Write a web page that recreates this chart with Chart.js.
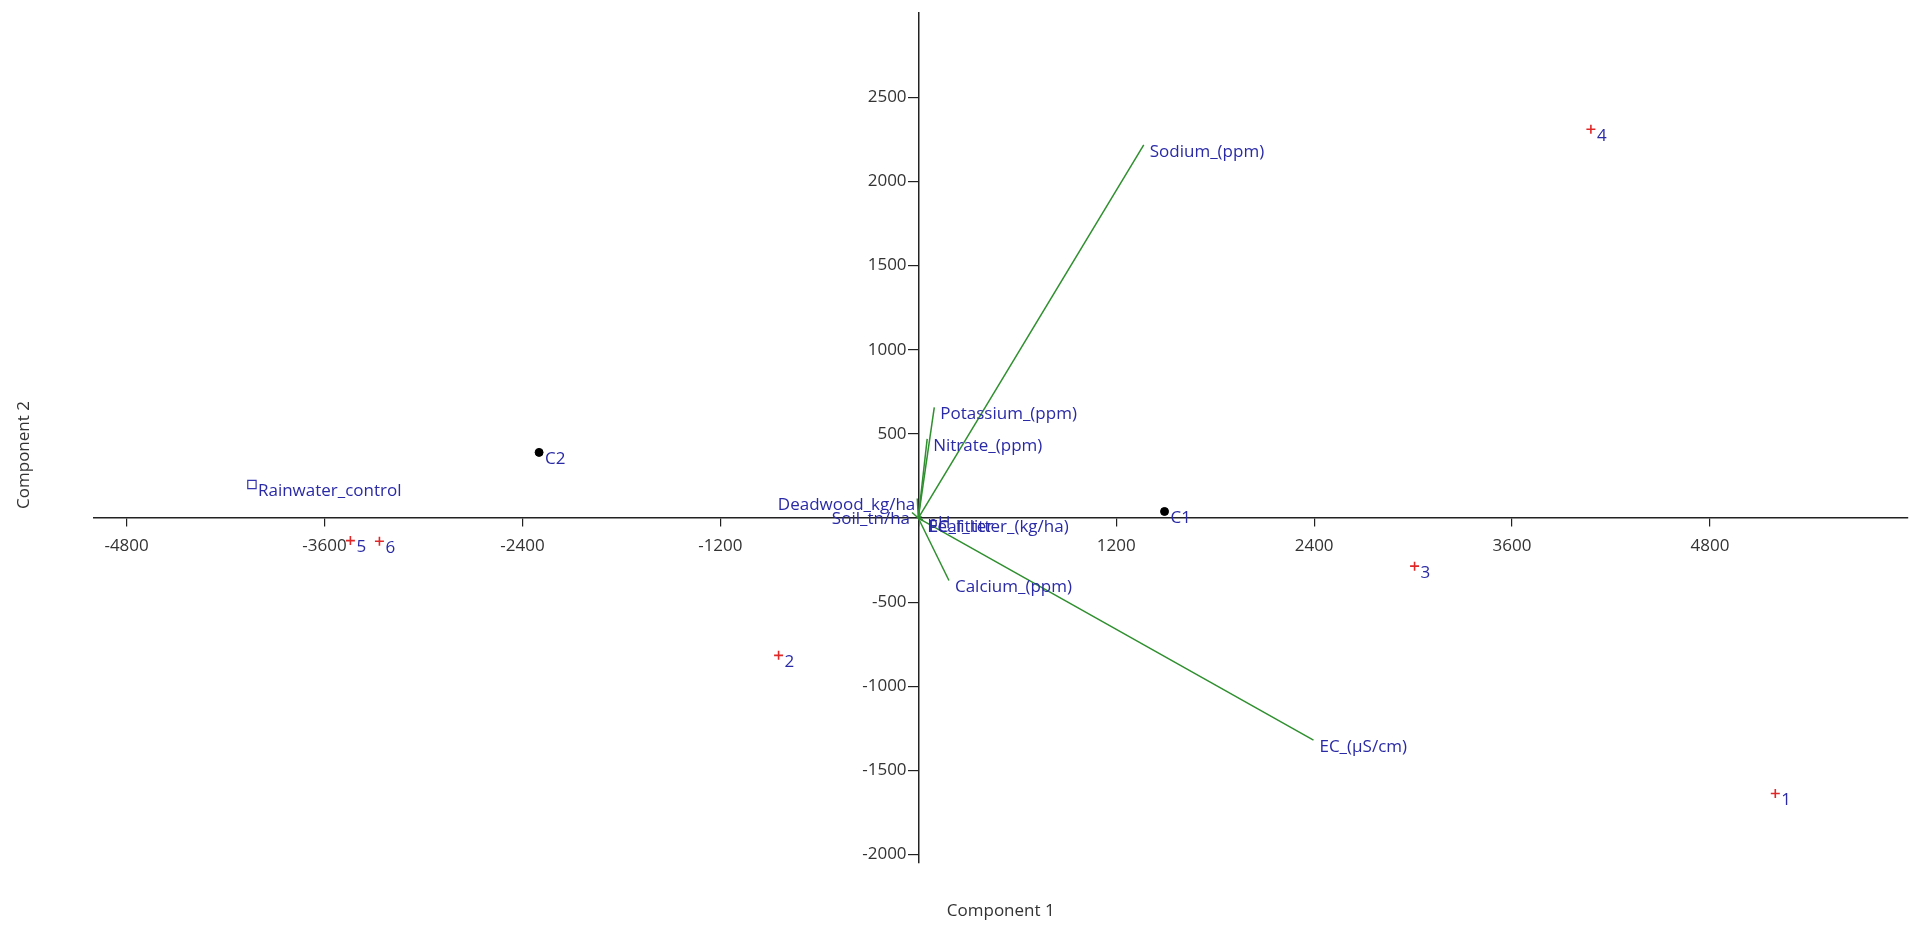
<!DOCTYPE html>
<html>
<head>
<meta charset="utf-8">
<title>PCA biplot</title>
<script src="https://cdn.jsdelivr.net/npm/chart.js@4.4.1/dist/chart.umd.min.js"></script>
<style>
  html, body { margin: 0; padding: 0; background: #ffffff; }
  #wrap { position: relative; width: 1915px; height: 925px; }
</style>
</head>
<body>
<div id="wrap"><canvas id="biplot"></canvas></div>
<script>
// Sample scores on components 1 and 2
const sampleNames = ['1', '2', '3', '4', '5', '6'];
const sampleX = [5196, -847, 3009, 4078, -3443, -3267];
const sampleY = [-1637, -816, -286, 2310, -134, -138];

// Group centroids
const groupNames = ['C1', 'C2'];
const groupX = [1493, -2299];
const groupY = [39, 390];

// Control sample
const controlNames = ['Rainwater_control'];
const controlX = [-4040];
const controlY = [199];

// Variable loadings drawn as vectors from the origin
const varNames = ['Sodium_(ppm)', 'Potassium_(ppm)', 'Nitrate_(ppm)', 'Deadwood_kg/ha', 'Soil_tn/ha',
                  'pH', 'EC_litter', 'Leaf_litter_(kg/ha)', 'Calcium_(ppm)', 'EC_(µS/cm)'];
const varX = [1367, 97, 54, -6, -38, 20, 25, 27, 186, 2396];
const varY = [2217, 658, 470, 116, 33, 10, -12, -12, -371, -1320];

// Axis ticks
const xTicks = [-4800, -3600, -2400, -1200, 0, 1200, 2400, 3600, 4800];
const yTicks = [-2000, -1500, -1000, -500, 0, 500, 1000, 1500, 2000, 2500];

const FONT = '"Open Sans", "Noto Sans", sans-serif';
const LABEL_BLUE = '#2a2aa6';
const VECTOR_GREEN = '#2f8f2f';
const X_MIN = -5000, X_MAX = 6000, Y_MIN = -2050, Y_MAX = 3000;

const pts = (xs, ys) => xs.map((x, i) => ({ x: x, y: ys[i] }));

const datasets = [
  {
    label: 'Samples',
    data: pts(sampleX, sampleY),
    names: sampleNames,
    pointStyle: 'cross',
    pointRadius: 4.5,
    pointBorderColor: '#e02828',
    pointBorderWidth: 1.6,
    showLine: false
  },
  {
    label: 'Centroids',
    data: pts(groupX, groupY),
    names: groupNames,
    pointStyle: 'circle',
    pointRadius: 4,
    pointBackgroundColor: '#000000',
    pointBorderColor: '#000000',
    pointBorderWidth: 1,
    showLine: false
  },
  {
    label: 'Control',
    data: pts(controlX, controlY),
    names: controlNames,
    pointStyle: 'rect',
    pointRadius: 5.9,
    pointBackgroundColor: 'rgba(255,255,255,0)',
    pointBorderColor: '#3333b0',
    pointBorderWidth: 1.2,
    showLine: false
  }
];

varNames.forEach((name, i) => {
  datasets.push({
    label: name,
    data: [{ x: 0, y: 0 }, { x: varX[i], y: varY[i] }],
    names: ['', name],
    showLine: true,
    borderColor: VECTOR_GREEN,
    borderWidth: 1.5,
    pointRadius: 0,
    fill: false
  });
});

// Writes each point's name next to its marker
const pointNames = {
  id: 'pointNames',
  afterDatasetsDraw(chart) {
    const ctx = chart.ctx;
    ctx.save();
    ctx.font = '17px ' + FONT;
    ctx.fillStyle = LABEL_BLUE;
    ctx.textBaseline = 'middle';
    chart.data.datasets.forEach((ds, di) => {
      const meta = chart.getDatasetMeta(di);
      meta.data.forEach((el, j) => {
        const name = ds.names && ds.names[j];
        if (!name) return;
        const left = ds.data[j].x < 0 && ds.showLine;
        ctx.textAlign = left ? 'right' : 'left';
        ctx.fillText(name, left ? el.x - 2 : el.x + 6, el.y + 7);
      });
    });
    ctx.restore();
  }
};

// Axis titles placed around the plotting region
const axisTitles = {
  id: 'axisTitles',
  afterDraw(chart) {
    const ctx = chart.ctx;
    const a = chart.chartArea;
    ctx.save();
    ctx.font = '17px ' + FONT;
    ctx.fillStyle = '#333333';
    ctx.textAlign = 'center';
    ctx.textBaseline = 'middle';
    ctx.fillText('Component 1', (a.left + a.right) / 2, 911);
    ctx.translate(24, 455);
    ctx.rotate(-Math.PI / 2);
    ctx.fillText('Component 2', 0, 0);
    ctx.restore();
  }
};

const tickText = v => (v === 0 ? '' : String(v));

new Chart(document.getElementById('biplot'), {
  type: 'scatter',
  data: { datasets: datasets },
  options: {
    responsive: true,
    maintainAspectRatio: false,
    animation: false,
    layout: { padding: { left: 93.6, right: 3.3, top: 12, bottom: 62 } },
    plugins: {
      legend: { display: false },
      tooltip: { enabled: false }
    },
    scales: {
      x: {
        type: 'linear',
        position: { y: 0 },
        min: X_MIN,
        max: X_MAX,
        afterBuildTicks: scale => { scale.ticks = xTicks.map(v => ({ value: v })); },
        border: { display: true, color: '#222222', width: 1.5 },
        grid: { drawOnChartArea: false, drawTicks: true, tickLength: 8, color: '#222222', lineWidth: 1.2 },
        ticks: {
          padding: 10,
          color: '#333333',
          font: { family: FONT, size: 17 },
          maxRotation: 0,
          autoSkip: false,
          callback: tickText
        }
      },
      // vertical axis line and tick marks through x = 0
      y: {
        type: 'linear',
        position: { x: 0 },
        min: Y_MIN,
        max: Y_MAX,
        afterBuildTicks: scale => { scale.ticks = yTicks.map(v => ({ value: v })); },
        border: { display: true, color: '#222222', width: 1.5 },
        grid: { drawOnChartArea: false, drawTicks: true, tickLength: 10, color: '#222222', lineWidth: 1.2 },
        ticks: { display: false }
      },
      // tick numbers of the vertical axis, set just left of the tick marks
      yNumbers: {
        type: 'linear',
        axis: 'y',
        position: { x: -71 },
        min: Y_MIN,
        max: Y_MAX,
        afterBuildTicks: scale => { scale.ticks = yTicks.map(v => ({ value: v })); },
        border: { display: false },
        grid: { display: false, drawTicks: false },
        ticks: {
          color: '#333333',
          font: { family: FONT, size: 17 },
          autoSkip: false,
          callback: tickText
        }
      }
    }
  },
  plugins: [pointNames, axisTitles]
});
</script>
</body>
</html>
